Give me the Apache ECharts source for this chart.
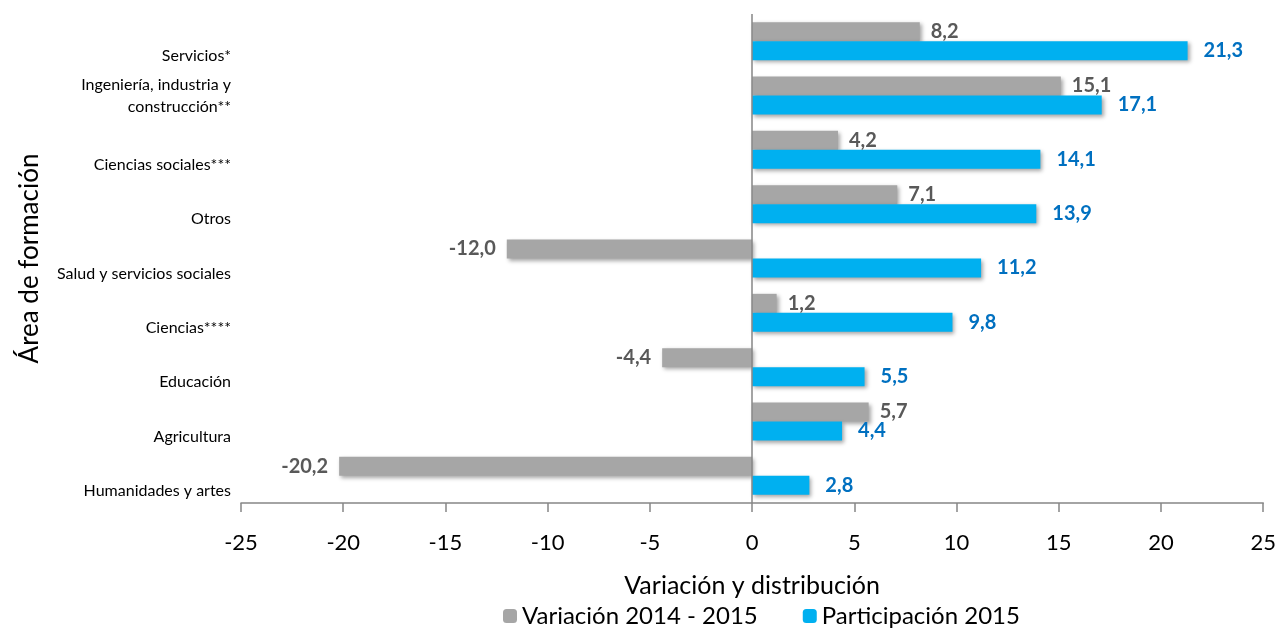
<!DOCTYPE html>
<html><head><meta charset="utf-8">
<script src="https://cdn.jsdelivr.net/npm/echarts@6/dist/echarts.min.js"></script>
<style>html,body{margin:0;padding:0;background:#fff}#c{width:1279px;height:633px}</style>
</head><body><div id="c"></div>
<script>
const categories = ["Servicios*", "Ingeniería, industria y\nconstrucción**", "Ciencias sociales***", "Otros", "Salud y servicios sociales", "Ciencias****", "Educación", "Agricultura", "Humanidades y artes"];
const variacion = [8.2, 15.1, 4.2, 7.1, -12.0, 1.2, -4.4, 5.7, -20.2];
const participacion = [21.3, 17.1, 14.1, 13.9, 11.2, 9.8, 5.5, 4.4, 2.8];
const xTicks = [-25, -20, -15, -10, -5, 0, 5, 10, 15, 20, 25];
const seriesNames = ["Variación 2014 - 2015", "Participación 2015"];

const FONT = 'Lato';
const fmt = p => p.value.toFixed(1).replace('.', ',');
const items = arr => arr.map(v => ({ value: v, label: { position: v < 0 ? 'left' : 'right' } }));
const shadow = { shadowColor: 'rgba(0,0,0,0.35)', shadowBlur: 4, shadowOffsetX: 2, shadowOffsetY: 2 };
const catFmt = v => v.indexOf('\n') >= 0
  ? v.split('\n').map(s => '{m|' + s + '}').join('\n')
  : '{s|' + v + '}';

const chart = echarts.init(document.getElementById('c'));
chart.setOption({
  animation: false,
  textStyle: { fontFamily: FONT },
  grid: { left: 241, right: 13, top: 14, bottom: 130 },
  legend: {
    top: 604, left: 503, itemWidth: 14, itemHeight: 14, itemGap: 45,
    padding: 0,
    textStyle: { fontSize: 24, color: '#000', fontFamily: FONT },
    data: seriesNames
  },
  xAxis: {
    type: 'value', min: xTicks[0], max: xTicks[xTicks.length - 1], interval: 5,
    name: 'Variación y distribución', nameLocation: 'middle', nameGap: 70,
    nameTextStyle: { fontSize: 25, color: '#000', fontFamily: FONT },
    axisLine: { show: true, lineStyle: { color: '#868686', width: 1.5 } },
    axisTick: { show: true, length: 9, lineStyle: { color: '#868686', width: 1.5 } },
    axisLabel: { fontSize: 22, color: '#000', margin: 29, fontFamily: FONT },
    splitLine: { show: false }
  },
  yAxis: {
    type: 'category', inverse: true, data: categories,
    name: 'Área de formación', nameLocation: 'middle', nameGap: 198, nameRotate: 90,
    nameTextStyle: { fontSize: 26, color: '#000', fontFamily: FONT },
    axisLine: { show: false, onZero: false },
    axisTick: { show: false },
    axisLabel: {
      margin: 10, formatter: catFmt,
      rich: {
        s: { fontSize: 16, color: '#000', fontFamily: FONT, padding: [30, 0, 0, 0] },
        m: { fontSize: 16, color: '#000', fontFamily: FONT, lineHeight: 22 }
      }
    }
  },
  series: [
    {
      name: seriesNames[0], type: 'bar', data: items(variacion),
      barWidth: 19, barGap: '0%',
      itemStyle: Object.assign({ color: '#a6a6a6' }, shadow),
      label: { show: true, formatter: fmt, fontSize: 20, fontWeight: 'bold', color: '#595959', distance: 11, fontFamily: FONT },
      markLine: {
        silent: true, symbol: 'none', label: { show: false },
        lineStyle: { color: '#868686', width: 1.5, type: 'solid' },
        data: [{ xAxis: 0 }]
      }
    },
    {
      name: seriesNames[1], type: 'bar', data: items(participacion),
      barWidth: 19, barGap: '0%',
      itemStyle: Object.assign({ color: '#00b0f0' }, shadow),
      label: { show: true, formatter: fmt, fontSize: 20, fontWeight: 'bold', color: '#0070c0', distance: 16, fontFamily: FONT }
    }
  ]
});
</script></body></html>
